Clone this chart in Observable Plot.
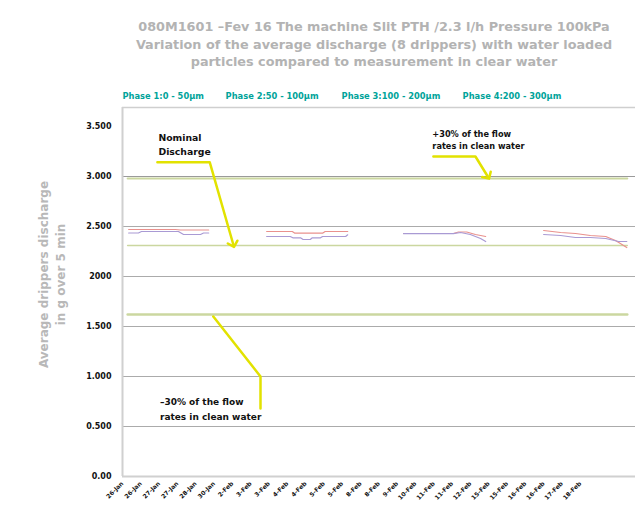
<!DOCTYPE html>
<html>
<head>
<meta charset="utf-8">
<script src="https://cdn.jsdelivr.net/npm/d3@7"></script>
<script src="https://cdn.jsdelivr.net/npm/@observablehq/plot@0.6"></script>
<style>
  body { margin: 0; background: #fff; }
  #wrap { position: relative; width: 639px; height: 517px; overflow: hidden; }
  #title { position: absolute; left: 100px; width: 548px; top: 18px; text-align: center;
           font-family: "DejaVu Sans", sans-serif; font-weight: bold; font-size: 12.8px;
           line-height: 17.5px; color: #b3b3b3; z-index: 2; white-space: nowrap; }
  #chart { position: absolute; left: 0; top: 0; }
</style>
</head>
<body>
<div id="wrap">
  <div id="title">080M1601 –Fev 16 The machine Slit PTH /2.3 l/h Pressure 100kPa<br>Variation of the average discharge (8 drippers) with water loaded<br>particles compared to measurement in clear water</div>
  <div id="chart"></div>
</div>
<script>
// ---- data ----
const yTicks = [0, 0.5, 1.0, 1.5, 2.0, 2.5, 3.0, 3.5];
const yTickLabels = ["0.00", "0.500", "1.000", "1.500", "2000", "2.500", "3.000", "3.500"];

const xTickLabels = ["26-Jan","26-Jan","27-Jan","27-Jan","28-Jan","30-Jan","2-Feb","3-Feb","3-Feb",
  "4-Feb","4-Feb","5-Feb","5-Feb","8-Feb","8-Feb","9-Feb","10-Feb","11-Feb","11-Feb","12-Feb",
  "15-Feb","15-Feb","16-Feb","16-Feb","17-Feb","18-Feb"];

const phaseLabels = ["Phase 1:0 - 50µm", "Phase 2:50 - 100µm", "Phase 3:100 - 200µm", "Phase 4:200 - 300µm"];
const phaseStart = [0, 20.1, 42.7, 66.3];

// measurements: [x position, discharge]
const phase1Red = [[1.2,2.47],[10.3,2.47],[11.3,2.465],[16.8,2.465]];
const phase1Purple = [[1.2,2.435],[3.1,2.435],[3.7,2.45],[10.9,2.45],[11.9,2.42],[15.2,2.42],[15.8,2.435],[16.8,2.435]];
const phase2Red = [[28.1,2.45],[33.1,2.45],[33.6,2.433],[39.0,2.433],[39.5,2.45],[43.9,2.45]];
const phase2Purple = [[28.1,2.40],[32.7,2.40],[33.2,2.387],[34.7,2.387],[35.2,2.37],[36.6,2.37],[37.0,2.387],[38.6,2.387],[39.0,2.40],[43.5,2.40],[43.9,2.417]];
const phase3Red = [[54.8,2.43],[64.5,2.43],[65.5,2.445],[67.1,2.445],[68.8,2.42],[70.8,2.40]];
const phase3Purple = [[54.8,2.428],[64.5,2.428],[65.9,2.44],[67.8,2.42],[69.8,2.38],[70.8,2.35]];
const phase4Red = [[82.1,2.46],[85.4,2.44],[88.3,2.43],[91.2,2.41],[94.2,2.40],[96.1,2.36],[98.3,2.29]];
const phase4Purple = [[82.1,2.42],[85.4,2.41],[88.3,2.39],[91.2,2.39],[94.2,2.38],[96.7,2.35],[98.3,2.35]];

// reference levels (+30%, nominal, -30%)
const refUpper = 2.98, refNominal = 2.31, refLower = 1.62;
const refSpan = [1.0, 98.4];

// annotations
const noteNominal = "Nominal\nDischarge";
const notePlus = "+30% of the flow\nrates in clean water";
const noteMinus = "–30% of the flow\nrates in clean water";
const arrowNominal = [[6.8,3.143],[17.0,3.143],[21.6,2.32]];
const arrowPlus = [[60.6,3.20],[68.8,3.20],[71.2,3.00]];
const arrowMinus = [[26.9,0.68],[26.9,1.0],[17.7,1.60]];

const yLabel = "Average drippers discharge\nin g over 5 min";

// ---- build ----
const toRows = (arr, series, seg) => arr.map(([x, y]) => ({x, y, series, seg}));
const rows = [
  ...toRows(phase1Red, "red", "r1"), ...toRows(phase1Purple, "purple", "p1"),
  ...toRows(phase2Red, "red", "r2"), ...toRows(phase2Purple, "purple", "p2"),
  ...toRows(phase3Red, "red", "r3"), ...toRows(phase3Purple, "purple", "p3"),
  ...toRows(phase4Red, "red", "r4"), ...toRows(phase4Purple, "purple", "p4")
];
const yMap = new Map(yTicks.map((v, i) => [v, yTickLabels[i]]));
const xTickPos = xTickLabels.map((_, i) => i * 3.57);
const xMap = new Map(xTickPos.map((v, i) => [v, xTickLabels[i]]));
const yTop = 3.69;

const refLine = (v) => refSpan.map(x => ({x, y: v}));

const chart = Plot.plot({
  width: 639, height: 517,
  marginTop: 107, marginBottom: 41, marginLeft: 122, marginRight: 4,
  x: {domain: [0, 100]},
  y: {domain: [0, yTop]},
  style: {fontFamily: "DejaVu Sans, sans-serif", background: "#fff", overflow: "visible"},
  marks: [
    Plot.ruleY(yTicks.filter(d => d > 0 && d < 3.2), {stroke: d => d === 3.0 ? "#9a9a9a" : "#ababab", strokeWidth: 1}),
    Plot.ruleY([yTop], {stroke: "#cfcfcf", strokeWidth: 1.5}),
    Plot.ruleY([0], {stroke: "#d0d0d0", strokeWidth: 2}),
    Plot.ruleX([0], {stroke: "#d0d0d0", strokeWidth: 2}),
    Plot.line(refLine(refUpper), {x: "x", y: "y", stroke: "#cbd7a0", strokeWidth: 2}),
    Plot.line(refLine(refNominal), {x: "x", y: "y", stroke: "#cbd7a0", strokeWidth: 1.5}),
    Plot.line(refLine(refLower), {x: "x", y: "y", stroke: "#cbd7a0", strokeWidth: 2.5}),
    Plot.line(rows.filter(d => d.series === "red"), {x: "x", y: "y", z: "seg", stroke: "#e9918d", strokeWidth: 1.2}),
    Plot.line(rows.filter(d => d.series === "purple"), {x: "x", y: "y", z: "seg", stroke: "#a99ad4", strokeWidth: 1.2}),
    Plot.line(arrowNominal.map(([x, y]) => ({x, y})), {x: "x", y: "y", stroke: "#e2e200", strokeWidth: 2.5, markerEnd: "arrow"}),
    Plot.line(arrowPlus.map(([x, y]) => ({x, y})), {x: "x", y: "y", stroke: "#e2e200", strokeWidth: 2.5, markerEnd: "arrow"}),
    Plot.line(arrowMinus.map(([x, y]) => ({x, y})), {x: "x", y: "y", stroke: "#e2e200", strokeWidth: 2.5}),
    Plot.text([noteNominal], {x: 7.0, y: 3.33, text: d => d, textAnchor: "start", fontWeight: "bold", fontSize: 9.3, fill: "#111", lineHeight: 1.5}),
    Plot.text([notePlus], {x: 60.4, y: 3.37, text: d => d, textAnchor: "start", fontWeight: "bold", fontSize: 8.2, fill: "#111", lineHeight: 1.45}),
    Plot.text([noteMinus], {x: 7.3, y: 0.685, text: d => d, textAnchor: "start", fontWeight: "bold", fontSize: 9, fill: "#111", lineHeight: 1.6}),
    Plot.text(phaseLabels, {x: (d, i) => phaseStart[i], y: 3.80, text: d => d, textAnchor: "start", fontWeight: "bold", fontSize: 8.3, fill: "#00a39a"}),
    Plot.text([yLabel], {x: -13.9, y: 2.02, text: d => d, rotate: -90, fontWeight: "bold", fontSize: 12, fill: "#b8b8b8", lineHeight: 1.4}),
    Plot.axisY({ticks: yTicks, tickFormat: d => yMap.get(d), tickSize: 0, tickPadding: 11, fontWeight: "bold", fontSize: 8, fill: "#111", label: null}),
    Plot.axisX({ticks: xTickPos, tickFormat: d => xMap.get(d), tickSize: 0, tickPadding: 6, tickRotate: -45, fontWeight: "bold", fontSize: 6, fill: "#111", label: null})
  ]
});
document.getElementById("chart").appendChild(chart);
</script>
</body>
</html>
